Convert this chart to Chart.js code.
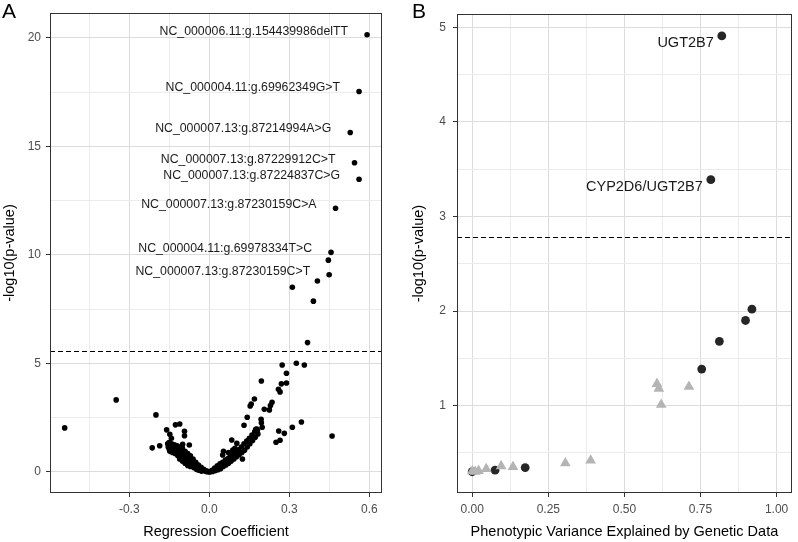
<!DOCTYPE html>
<html><head><meta charset="utf-8">
<script src="https://cdn.jsdelivr.net/npm/chart.js@4"></script>
<style>
html,body{margin:0;padding:0;background:#fff;}
#wrap{position:relative;width:798px;height:542px;overflow:hidden;background:#fff;}
.c{position:absolute;top:0;}
.lab{position:absolute;font-family:"Liberation Sans",Arial,sans-serif;font-size:21px;line-height:1;color:#000;}
</style></head>
<body><div id="wrap">
<div class="c" style="left:0;"><canvas id="cA" width="398" height="542"></canvas></div>
<div class="c" style="left:400px;"><canvas id="cB" width="398" height="542"></canvas></div>
<div class="lab" style="left:2px;top:0px">A</div>
<div class="lab" style="left:412px;top:0px">B</div>
</div>
<script>
// ---------- Panel A data (regression coefficient vs -log10 p) ----------
const coefHitsA = [0.591,0.561,0.528,0.544,0.561,0.473,0.456,0.446,0.449,0.405,0.311,0.390,0.368];
const logpHitsA = [20.15,17.53,15.64,14.25,13.49,12.15,10.12,9.76,9.09,8.80,8.51,7.87,5.96];

const coefMidA = [0.273,0.326,0.356,0.289,0.195,0.270,0.289,0.259,0.265,0.169,0.157,0.153,0.235,0.229,0.225,0.206,0.142,0.194,0.195,0.130,0.345,0.311,0.174,0.460,0.260,0.281,0.250,0.265,0.124,0.084,0.103,0.096,0.088,0.053,0.050,0.072,0.198,0.178];
const logpMidA = [4.93,5.01,4.93,4.55,4.19,4.06,4.10,3.81,3.69,3.36,3.13,3.04,3.21,3.06,2.86,2.89,2.52,2.43,2.27,2.15,2.30,2.06,1.97,1.66,1.89,1.78,1.37,1.46,0.60,1.47,1.32,1.09,1.01,0.95,0.78,0.89,2.06,1.98];

const coefNegA = [-0.542,-0.349,-0.200,-0.214,-0.186,-0.127,-0.111,-0.093,-0.093,-0.075,-0.160,-0.148,-0.142,-0.100];
const logpNegA = [2.03,3.32,2.63,1.11,1.21,2.17,2.21,1.87,1.67,1.24,1.94,1.74,1.55,1.28];

const coefLeftA = [-0.156,-0.154,-0.151,-0.149,-0.150,-0.148,-0.141,-0.139,-0.140,-0.138,-0.131,-0.129,-0.130,-0.128,-0.121,-0.119,-0.120,-0.118,-0.111,-0.109,-0.110,-0.108,-0.111,-0.101,-0.099,-0.100,-0.098,-0.101,-0.091,-0.089,-0.090,-0.088,-0.091,-0.081,-0.079,-0.080,-0.078,-0.081,-0.071,-0.069,-0.070,-0.068,-0.071,-0.061,-0.059,-0.060,-0.058,-0.051,-0.049,-0.050,-0.048,-0.041,-0.039,-0.040,-0.031,-0.029,-0.030,-0.021,-0.019,-0.011,-0.009,0.000];
const logpLeftA = [1.30,1.15,1.35,1.20,1.05,0.95,1.30,1.15,1.00,0.90,1.25,1.10,0.95,0.85,1.20,1.05,0.90,0.75,1.15,1.00,0.85,0.70,0.60,1.10,0.95,0.80,0.65,0.50,0.95,0.80,0.65,0.50,0.40,0.85,0.70,0.55,0.42,0.30,0.75,0.60,0.45,0.35,0.25,0.60,0.48,0.35,0.20,0.45,0.32,0.20,0.12,0.32,0.20,0.08,0.22,0.12,0.04,0.12,0.05,0.05,0.01,0.00];

const coefRightA = [0.005,0.010,0.012,0.020,0.022,0.030,0.032,0.040,0.042,0.050,0.052,0.060,0.062,0.070,0.072,0.080,0.082,0.090,0.092,0.100,0.102,0.110,0.112,0.120,0.122,0.130,0.132,0.140,0.142,0.150,0.152,0.160,0.162,0.170,0.172,0.180,0.182];
const logpRightA = [0.02,0.08,0.02,0.18,0.06,0.28,0.10,0.38,0.15,0.45,0.25,0.55,0.32,0.62,0.40,0.72,0.50,0.82,0.60,0.92,0.70,1.02,0.80,1.15,0.90,1.30,1.00,1.42,1.15,1.55,1.30,1.70,1.45,1.85,1.60,1.92,1.75];

const labelTextA = ["NC_000006.11:g.154439986delTT","NC_000004.11:g.69962349G>T","NC_000007.13:g.87214994A>G","NC_000007.13:g.87229912C>T","NC_000007.13:g.87224837C>G","NC_000007.13:g.87230159C>A","NC_000004.11:g.69978334T>C","NC_000007.13:g.87230159C>T"];
const labelCoefA = [0.591,0.561,0.528,0.544,0.561,0.473,0.456,0.449];
const labelLogpA = [20.15,17.53,15.64,14.25,13.49,12.15,10.12,9.09];
const thresholdA = 5.58;

const xMajorA = [-0.3,0.0,0.3,0.6];
const xMinorA = [-0.45,-0.15,0.15,0.45];
const yMajorA = [0,5,10,15,20];
const yMinorA = [2.5,7.5,12.5,17.5];

// ---------- Panel B data (variance explained vs -log10 p) ----------
const circVarB  = [0.820,0.784,0.919,0.898,0.812,0.754,0.174,0.075,0.000];
const circLogpB = [4.91,3.39,2.02,1.90,1.68,1.386,0.344,0.316,0.300];
const triVarB   = [0.607,0.613,0.621,0.712,0.389,0.306,0.134,0.095,0.046,0.021,0.000,0.010];
const triLogpB  = [1.23,1.18,1.01,1.20,0.42,0.39,0.35,0.36,0.33,0.31,0.305,0.30];

const labelTextB = ["UGT2B7","CYP2D6/UGT2B7"];
const labelVarB  = [0.820,0.784];
const labelLogpB = [4.91,3.39];
const thresholdB = 2.78;

const xMajorB = [0,0.25,0.5,0.75,1.0];
const xMinorB = [0.125,0.375,0.625,0.875];
const yMajorB = [1,2,3,4,5];
const yMinorB = [0.5,1.5,2.5,3.5,4.5];

// ---------- helpers ----------
const FONT = '"Liberation Sans", Arial, Helvetica, sans-serif';
function pts(xs, ys){ return xs.map((x,i)=>({x:x, y:ys[i]})); }
function near(v, arr){ return arr.some(a=>Math.abs(a-v)<1e-9); }

function axis(o){
  return {
    type:'linear', min:o.min, max:o.max,
    afterFit(s){ if(o.isX) s.height=o.size; else s.width=o.size; },
    afterBuildTicks(s){ s.ticks = o.major.concat(o.minor).sort((a,b)=>a-b).map(v=>({value:v})); },
    ticks:{ autoSkip:false, maxRotation:0, minRotation:0, padding:o.tickPad, color:'#4d4d4d',
      font:{family:FONT,size:12},
      callback(v){ return near(v,o.major) ? Number(v).toFixed(o.dec) : ''; } },
    grid:{ drawTicks:true, tickLength:4, lineWidth:1,
      color:c=> (c.tick && near(c.tick.value,o.major)) ? '#dcdcdc' : '#ebebeb',
      tickColor:c=> (c.tick && near(c.tick.value,o.major)) ? '#333333' : 'rgba(0,0,0,0)' },
    border:{display:false},
    title:{display:true, text:o.title, color:'#000', font:{family:FONT,size:14.5,lineHeight:1.2}, padding:o.titlePad}
  };
}

function framePlugin(){
  return { id:'frame', afterDraw(chart){
    const a=chart.chartArea, ctx=chart.ctx;
    ctx.save(); ctx.strokeStyle='#333'; ctx.lineWidth=1;
    ctx.strokeRect(Math.round(a.left)+0.5, Math.round(a.top)+0.5, Math.round(a.right-a.left)-1, Math.round(a.bottom-a.top)-1);
    ctx.restore(); } };
}
function hlinePlugin(val){
  return { id:'hline', afterDatasetsDraw(chart){
    const a=chart.chartArea, ctx=chart.ctx, y=Math.round(chart.scales.y.getPixelForValue(val))+0.5;
    ctx.save(); ctx.strokeStyle='#000'; ctx.lineWidth=1; ctx.setLineDash([5,3]);
    ctx.beginPath(); ctx.moveTo(a.left,y); ctx.lineTo(a.right,y); ctx.stroke(); ctx.restore(); } };
}
function labelPlugin(texts, xs, ys, size, dx, dy){
  return { id:'labels', afterDatasetsDraw(chart){
    const ctx=chart.ctx; ctx.save();
    ctx.font = size+'px '+FONT; ctx.fillStyle='#1a1a1a'; ctx.textAlign='right'; ctx.textBaseline='middle';
    texts.forEach((t,i)=>{
      const px=chart.scales.x.getPixelForValue(xs[i]), py=chart.scales.y.getPixelForValue(ys[i]);
      ctx.fillText(t, px-dx, py+dy);
    });
    ctx.restore(); } };
}

Chart.defaults.font.family = FONT;

// ---------- Panel A ----------
const dotA = {pointRadius:2.8, pointHoverRadius:2.8, backgroundColor:'#000', borderWidth:0, pointBorderWidth:0};
new Chart(document.getElementById('cA'), {
  type:'scatter',
  data:{datasets:[
    Object.assign({data:pts(coefHitsA,logpHitsA)}, dotA),
    Object.assign({data:pts(coefMidA,logpMidA)}, dotA),
    Object.assign({data:pts(coefNegA,logpNegA)}, dotA),
    Object.assign({data:pts(coefLeftA,logpLeftA)}, dotA),
    Object.assign({data:pts(coefRightA,logpRightA)}, dotA)
  ]},
  options:{
    responsive:false, animation:false, events:[],
    layout:{padding:{left:0,right:16,top:13,bottom:0}},
    plugins:{legend:{display:false}, tooltip:{enabled:false}},
    scales:{
      x: axis({isX:true,min:-0.597,max:0.647,major:xMajorA,minor:xMinorA,dec:1,size:49,tickPad:5,title:'Regression Coefficient',titlePad:{top:0,bottom:1}}),
      y: axis({isX:false,min:-0.97,max:21.15,major:yMajorA,minor:yMinorA,dec:0,size:50,tickPad:5,title:'-log10(p-value)',titlePad:{top:1,bottom:0}})
    }
  },
  plugins:[hlinePlugin(thresholdA), labelPlugin(labelTextA,labelCoefA,labelLogpA,12.3,19,-3.5), framePlugin()]
});

// ---------- Panel B ----------
new Chart(document.getElementById('cB'), {
  type:'scatter',
  data:{datasets:[
    {data:pts(triVarB,triLogpB), pointStyle:'triangle', pointRadius:6.2, pointHoverRadius:6.2, backgroundColor:'#b4b4b4', borderColor:'#b4b4b4', borderWidth:0},
    {data:pts(circVarB,circLogpB), pointStyle:'circle', pointRadius:4.4, pointHoverRadius:4.4, backgroundColor:'#262626', borderWidth:0}
  ]},
  options:{
    responsive:false, animation:false, events:[],
    layout:{padding:{left:0,right:1,top:13,bottom:0}},
    plugins:{legend:{display:false}, tooltip:{enabled:false}},
    scales:{
      x: axis({isX:true,min:-0.05,max:1.05,major:xMajorB,minor:xMinorB,dec:2,size:49,tickPad:5,title:'Phenotypic Variance Explained by Genetic Data',titlePad:{top:0,bottom:1}}),
      y: axis({isX:false,min:0.075,max:5.14,major:yMajorB,minor:yMinorB,dec:0,size:57,tickPad:7,title:'-log10(p-value)',titlePad:{top:10,bottom:0}})
    }
  },
  plugins:[hlinePlugin(thresholdB), labelPlugin(labelTextB,labelVarB,labelLogpB,14.5,8,7), framePlugin()]
});
</script>
</body></html>
